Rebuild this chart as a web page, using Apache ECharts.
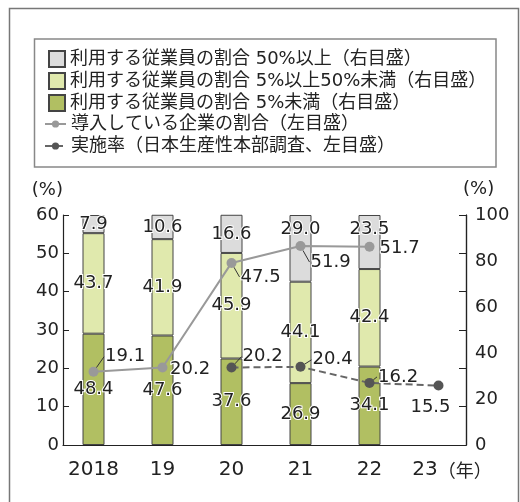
<!DOCTYPE html>
<html>
<head>
<meta charset="utf-8">
<script src="https://cdn.jsdelivr.net/npm/echarts@6/dist/echarts.min.js"></script>
<style>
html,body{margin:0;padding:0;background:#fff;}
#chart{width:520px;height:502px;}
</style>
</head>
<body>
<div id="chart"></div>
<script>
// ---- data ----
const years = ['2018', '19', '20', '21', '22', '23'];
const under5 = [48.4, 47.6, 37.6, 26.9, 34.1, null];
const mid5to50 = [43.7, 41.9, 45.9, 44.1, 42.4, null];
const over50 = [7.9, 10.6, 16.6, 29.0, 23.5, null];
const adoptRate = [19.1, 20.2, 47.5, 51.9, 51.7, null];
const implRate = [null, null, 20.2, 20.4, 16.2, 15.5];
const leftAxisTicks = [0, 10, 20, 30, 40, 50, 60];
const rightAxisTicks = [0, 20, 40, 60, 80, 100];
const names = {
  over50: '利用する従業員の割合 50%以上（右目盛）',
  mid: '利用する従業員の割合 5%以上50%未満（右目盛）',
  under5: '利用する従業員の割合 5%未満（右目盛）',
  adopt: '導入している企業の割合（左目盛）',
  impl: '実施率（日本生産性本部調査、左目盛）'
};
const yearUnit = '（年）';

// ---- style ----
const NUM_FONT = "'DejaVu Sans', 'Noto Sans CJK JP', sans-serif";
const JP_FONT = "'Noto Sans CJK JP', sans-serif";
const TXT = '#222';
// label offsets relative to default placement: [dx, dy, leader line]
const adoptOff = [[1.5, -15, true], [-2.5, 2, false], [-1, 14, true], [0, 16, true], [0, 2, false], [0, 0, false]];
const implOff = [[0, 0, false], [0, 0, false], [1, -11, true], [2, -7, true], [-1.5, -6, true], [-8, 3, false]];

const chart = echarts.init(document.getElementById('chart'), null, {renderer: 'canvas'});

const barLabel = {
  show: true, position: 'inside', color: TXT, fontSize: 18, fontFamily: NUM_FONT,
  textBorderColor: '#fff', textBorderWidth: 2,
  formatter: p => (p.value == null ? '' : Number(p.value).toFixed(1))
};
const barBase = {
  type: 'bar', stack: 'emp', xAxisIndex: 1, yAxisIndex: 4, barWidth: 22,
  label: barLabel, emphasis: {disabled: true}
};
const lineLabel = {
  show: true, position: 'right', distance: 5, color: TXT, fontSize: 18, fontFamily: NUM_FONT,
  textBorderColor: '#fff', textBorderWidth: 2,
  formatter: p => Number(p.value).toFixed(1)
};
function makeLayout(offs, bottomIdx) {
  return function (p) {
    const o = offs[p.dataIndex];
    const cx = p.rect.x + p.rect.width / 2;
    const cy = p.rect.y + p.rect.height / 2;
    if (p.dataIndex === bottomIdx) {
      return {x: cx + o[0], y: cy + 10 + o[1], align: 'center', verticalAlign: 'top'};
    }
    return {x: cx + 10 + o[0], y: cy + o[1], align: 'left', verticalAlign: 'middle'};
  };
}

const option = {
  animation: false,
  backgroundColor: '#fff',
  graphic: [
    {type: 'rect', shape: {x: 9.5, y: 8.5, width: 509, height: 520}, style: {fill: 'none', stroke: '#777', lineWidth: 1.5}, silent: true},
    {type: 'rect', shape: {x: 34.5, y: 39, width: 461.5, height: 128}, style: {fill: 'none', stroke: '#888', lineWidth: 1.5}, silent: true}
  ],
  legend: [
    {
      data: [names.over50, names.mid, names.under5],
      orient: 'vertical', left: 48, top: 50, padding: 0,
      itemWidth: 16, itemHeight: 16, itemGap: 4, icon: 'rect', selectedMode: false,
      textStyle: {fontSize: 18, fontFamily: NUM_FONT, color: TXT}
    },
    {
      data: [names.adopt, names.impl],
      orient: 'vertical', left: 44, top: 115, padding: 0,
      itemWidth: 21, itemHeight: 9, itemGap: 4, selectedMode: false,
      textStyle: {fontSize: 18, fontFamily: NUM_FONT, color: TXT}
    }
  ],
  grid: [
    {left: 63, right: 54, top: 215, bottom: 57},
    {left: 59, right: 47, top: 215, bottom: 57}
  ],
  xAxis: [
    {
      gridIndex: 0, type: 'value', min: 0, max: 1,
      axisLine: {show: true, lineStyle: {color: '#222', width: 1.2}},
      axisTick: {show: false}, axisLabel: {show: false}, splitLine: {show: false}
    },
    {
      gridIndex: 1, type: 'category', data: years,
      axisLine: {show: false}, axisTick: {show: false},
      axisLabel: {
        interval: 0, hideOverlap: false,
        margin: 15, color: TXT, fontSize: 20, fontFamily: NUM_FONT,
        formatter: (v, i) => i === years.length - 1 ? '{m|' + v + '}{u|' + yearUnit + '}' : '{n|' + v + '}',
        rich: {
          n: {fontSize: 20, fontFamily: NUM_FONT, color: TXT},
          m: {fontSize: 20, fontFamily: NUM_FONT, color: TXT, padding: [0, 0, 0, 27]},
          u: {fontSize: 18, fontFamily: JP_FONT, color: TXT}
        }
      }
    }
  ],
  yAxis: [
    {
      gridIndex: 0, type: 'value', position: 'left',
      min: leftAxisTicks[0], max: leftAxisTicks[leftAxisTicks.length - 1], interval: leftAxisTicks[1] - leftAxisTicks[0],
      name: '(%)', nameLocation: 'end', nameGap: 25,
      nameTextStyle: {fontSize: 18, fontFamily: NUM_FONT, color: TXT, align: 'right', verticalAlign: 'middle'},
      axisLine: {show: true, lineStyle: {color: '#222', width: 1.2}},
      axisTick: {show: true, inside: true, length: 6, lineStyle: {color: '#222'}},
      axisLabel: {margin: 4, color: TXT, fontSize: 18, fontFamily: NUM_FONT},
      splitLine: {show: false}
    },
    {
      gridIndex: 0, type: 'value', position: 'right',
      min: rightAxisTicks[0], max: rightAxisTicks[rightAxisTicks.length - 1], interval: rightAxisTicks[1] - rightAxisTicks[0],
      name: '(%)', nameLocation: 'end', nameGap: 26,
      nameTextStyle: {fontSize: 18, fontFamily: NUM_FONT, color: TXT, align: 'left', verticalAlign: 'middle', padding: [0, 0, 0, -3]},
      axisLine: {show: true, lineStyle: {color: '#222', width: 1.2}},
      axisTick: {show: false},
      axisLabel: {margin: 9, color: TXT, fontSize: 18, fontFamily: NUM_FONT},
      splitLine: {show: false}
    },
    {
      gridIndex: 0, type: 'value', position: 'right',
      min: leftAxisTicks[0], max: leftAxisTicks[leftAxisTicks.length - 1], interval: leftAxisTicks[1] - leftAxisTicks[0],
      axisLine: {show: true, lineStyle: {color: '#222', width: 1.2}},
      axisTick: {show: true, inside: true, length: 7, lineStyle: {color: '#222'}},
      axisLabel: {show: false}, splitLine: {show: false}
    },
    {
      gridIndex: 1, type: 'value', show: false,
      min: leftAxisTicks[0], max: leftAxisTicks[leftAxisTicks.length - 1]
    },
    {
      gridIndex: 1, type: 'value', show: false, position: 'right',
      min: rightAxisTicks[0], max: rightAxisTicks[rightAxisTicks.length - 1]
    }
  ],
  series: [
    Object.assign({}, barBase, {
      name: names.under5, data: under5,
      itemStyle: {color: '#b1bf62', borderColor: '#444', borderWidth: 1}
    }),
    Object.assign({}, barBase, {
      name: names.mid, data: mid5to50,
      itemStyle: {color: '#e0e9ad', borderColor: '#444', borderWidth: 1}
    }),
    Object.assign({}, barBase, {
      name: names.over50,
      data: over50.map((v, i) => (i === 3 || i === 4) ? {value: v, label: {position: 'insideTop', distance: 5}} : v),
      itemStyle: {color: '#dcdcdc', borderColor: '#444', borderWidth: 1}
    }),
    {
      name: names.adopt, type: 'line', xAxisIndex: 1, yAxisIndex: 3, z: 5,
      data: adoptRate.map((v, i) => ({value: v, labelLine: {show: adoptOff[i][2]}})),
      symbol: 'circle', symbolSize: 10,
      itemStyle: {color: '#999'},
      lineStyle: {color: '#999', width: 2},
      label: lineLabel,
      labelLine: {show: true, smooth: false, minTurnAngle: 0, lineStyle: {color: '#333', width: 1}},
      labelLayout: makeLayout(adoptOff, -1),
      emphasis: {disabled: true}
    },
    {
      name: names.impl, type: 'line', xAxisIndex: 1, yAxisIndex: 3, z: 6,
      data: implRate.map((v, i) => v == null ? null : ({
        value: v,
        labelLine: {show: implOff[i][2]},
        label: i === 5 ? {position: 'bottom'} : undefined
      })),
      symbol: 'circle', symbolSize: 10,
      itemStyle: {color: '#555'},
      lineStyle: {color: '#666', width: 2, type: [7, 4]},
      label: lineLabel,
      labelLine: {show: true, smooth: false, minTurnAngle: 0, lineStyle: {color: '#333', width: 1}},
      labelLayout: makeLayout(implOff, 5),
      emphasis: {disabled: true}
    }
  ]
};
chart.setOption(option);
</script>
</body>
</html>
